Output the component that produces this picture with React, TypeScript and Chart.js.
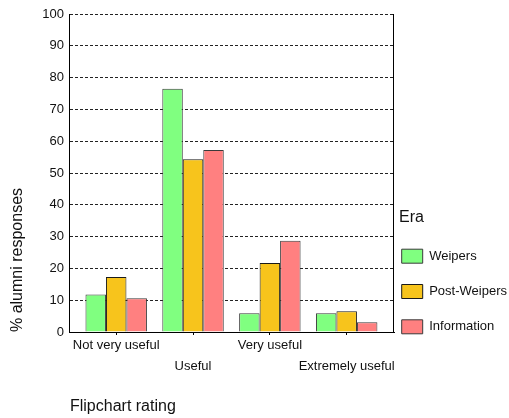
import React, { useEffect, useRef } from 'react';
import { Chart, registerables } from 'chart.js';

Chart.register(...registerables);

// ---- data ----
const categories: string[][] = [['Not very useful'], ['', 'Useful'], ['Very useful'], ['', 'Extremely useful']];
const seriesNames = ['Weipers', 'Post-Weipers', 'Information'];
const weipers = [11.8, 76.5, 5.9, 5.9];
const postWeipers = [17.3, 54.3, 21.7, 6.5];
const information = [10.6, 57.2, 28.7, 3.1];
const yMin = 0;
const yMax = 100;
const yStep = 10;
const legendTitle = 'Era';
const xTitle = 'Flipchart rating';
const yTitle = '% alumni responses';

const fillColors = ['#80FF80', '#F7C41C', '#FF8080'];
const borderColors = ['#3a3a3a', '#1a1a1a', '#3a3a3a'];
const FONT = "'Liberation Sans', Arial, Helvetica, sans-serif";
const TEXT = '#111';

const framePlugin = {
  id: 'frame',
  afterLayout(chart: any) {
    const x = chart.scales.x;
    x._startPixel = x.left + 7.8;
    x._endPixel = x.right - 8.9;
    x._length = x._endPixel - x._startPixel;
    if (chart.legend) chart.legend.left += 5;
  },
  beforeDatasetsDraw(chart: any) {
    const { ctx, chartArea } = chart;
    ctx.save();
    ctx.strokeStyle = '#000';
    ctx.lineWidth = 1;
    const xr = Math.round(chartArea.right) - 0.5;
    ctx.beginPath();
    ctx.moveTo(xr, chartArea.top);
    ctx.lineTo(xr, chartArea.bottom);
    ctx.stroke();
    ctx.restore();
  },
};

export default function App() {
  const ref = useRef<HTMLCanvasElement | null>(null);

  useEffect(() => {
    if (!ref.current) return;
    Chart.defaults.font.family = FONT;
    const series = [weipers, postWeipers, information];
    const chart = new Chart(ref.current, {
      type: 'bar',
      data: {
        labels: categories,
        datasets: series.map((d, i) => ({
          label: seriesNames[i],
          data: d,
          backgroundColor: fillColors[i],
          borderColor: borderColors[i],
          borderWidth: 1,
          barPercentage: 1,
          categoryPercentage: 0.8,
        })),
      },
      options: {
        responsive: false,
        animation: false,
        devicePixelRatio: 1,
        layout: { padding: { top: 14, left: 0, right: 0, bottom: 0 } },
        scales: {
          x: {
            offset: true,
            grid: { display: true, drawOnChartArea: false, drawTicks: true, tickLength: 3, offset: false, color: '#000' },
            border: { display: true, color: '#000', width: 1 },
            ticks: {
              autoSkip: false,
              maxRotation: 0,
              minRotation: 0,
              padding: 0,
              color: TEXT,
              font: { size: 13, lineHeight: 21 / 13, family: FONT },
            },
            title: {
              display: true,
              text: xTitle,
              align: 'start',
              color: TEXT,
              font: { size: 16, family: FONT },
              padding: { top: 19.9, bottom: 1.9 },
            },
          },
          y: {
            min: yMin,
            max: yMax,
            ticks: { stepSize: yStep, padding: 6, color: TEXT, font: { size: 13, family: FONT } },
            grid: { color: '#222', lineWidth: 1, drawTicks: false },
            border: { display: true, color: '#000', width: 1, dash: [3, 2] },
            title: {
              display: true,
              text: yTitle,
              align: 'start',
              color: TEXT,
              font: { size: 16, family: FONT },
              padding: { top: 8.2, bottom: 8.9 },
            },
          },
        },
        plugins: {
          tooltip: { enabled: false },
          legend: {
            display: true,
            position: 'right',
            align: 'start',
            maxWidth: 115,
            title: {
              display: true,
              text: legendTitle,
              position: 'start',
              color: TEXT,
              font: { size: 16, lineHeight: 1.2, family: FONT },
              padding: { top: 195.5, bottom: 17.8 },
            },
            labels: {
              boxWidth: 21,
              boxHeight: 14,
              padding: 2.7,
              color: TEXT,
              font: { size: 13, lineHeight: '32.6px', family: FONT },
              generateLabels: (c: any) =>
                (Chart.defaults.plugins.legend.labels.generateLabels as any)(c).map((l: any) => ({ ...l, text: [l.text] })),
            },
          },
        },
      } as any,
      plugins: [framePlugin],
    });
    return () => chart.destroy();
  }, []);

  return (
    <div style={{ position: 'fixed', left: 0, top: 0, width: 509, height: 418, background: '#fff' }}>
      <canvas ref={ref} width={509} height={418} style={{ display: 'block' }} />
    </div>
  );
}
